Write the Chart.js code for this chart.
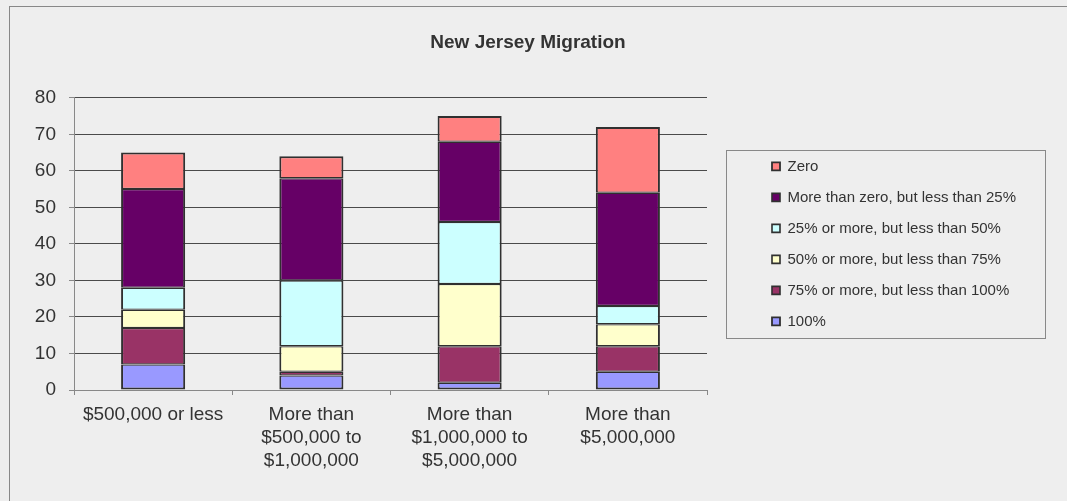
<!DOCTYPE html>
<html>
<head>
<meta charset="utf-8">
<title>New Jersey Migration</title>
<script src="https://cdn.jsdelivr.net/npm/chart.js@4/dist/chart.umd.min.js"></script>
<style>
	html, body { margin: 0; padding: 0; background: #eeeeee; }
	#wrap { position: relative; width: 1067px; height: 501px; }
</style>
</head>
<body>
<div id="wrap"><canvas id="migrationChart" width="1067" height="501"></canvas></div>
<script>
// Chart data
const categories = [
	'$500,000 or less',
	['More than', '$500,000 to', '$1,000,000'],
	['More than', '$1,000,000 to', '$5,000,000'],
	['More than', '$5,000,000']
];
const seriesLabels = [
	'100%',
	'75% or more, but less than 100%',
	'50% or more, but less than 75%',
	'25% or more, but less than 50%',
	'More than zero, but less than 25%',
	'Zero'
];
const pct100 = [7, 4, 2, 5];
const pct75to100 = [10, 1, 10, 7];
const pct50to75 = [5, 7, 17, 6];
const pct25to50 = [6, 18, 17, 5];
const pctAbove0 = [27, 28, 22, 31];
const pctZero = [10, 6, 7, 18];
const yMin = 0;
const yMax = 80;
const yStep = 10;

(function () {
	'use strict';

	const FONT = '"Liberation Sans", Arial, sans-serif';
	const TEXT_COLOR = '#333333';
	const LEGEND_W = 338;
	const LEGEND_SHIFT = 49;

	const seriesValues = [pct100, pct75to100, pct50to75, pct25to50, pctAbove0, pctZero];
	const seriesColors = ['#9999ff', '#993366', '#ffffcc', '#ccffff', '#660066', '#ff8080'];
	const last = seriesLabels.length - 1;

	const datasets = seriesLabels.map(function (label, i) {
		return {
			label: label,
			data: seriesValues[i],
			backgroundColor: seriesColors[i],
			borderColor: '#303030',
			// 2px outline round the stack, ~2.5px between segments
			borderWidth: {
				left: 2,
				right: 2,
				top: i === last ? 2 : 1.25,
				bottom: i === 0 ? 2 : 1.25
			},
			borderSkipped: false,
			inflateAmount: 0,
			barPercentage: 0.405,
			categoryPercentage: 1
		};
	});

	// background, outer frame, legend frame
	const frames = {
		id: 'frames',
		beforeLayout: function (chart) {
			const lg = chart.legend;
			if (lg && ! lg._fixedWidth) {
				const fit = lg.fit;
				lg.fit = function () {
					fit.call(this);
					this.width = LEGEND_W;
				};
				lg._fixedWidth = true;
			}
		},
		afterLayout: function (chart) {
			if (chart.legend) {
				chart.legend.left += LEGEND_SHIFT;
			}
		},
		beforeDraw: function (chart) {
			const ctx = chart.ctx;
			ctx.save();
			ctx.fillStyle = '#eeeeee';
			ctx.fillRect(0, 0, chart.width, chart.height);
			ctx.strokeStyle = '#888888';
			ctx.lineWidth = 1;
			ctx.strokeRect(9.5, 6.5, chart.width + 20, chart.height + 20);
			ctx.restore();
		},
		afterDraw: function (chart) {
			const lg = chart.legend;
			if ( ! lg || ! lg.columnSizes || ! lg.columnSizes.length) {
				return;
			}
			const pad = lg.options.labels.padding;
			const colH = lg.columnSizes[0].height;
			const itemsTop = (lg.top + pad + lg.bottom - colH) / 2;
			const itemsBottom = itemsTop + colH - pad;
			const ctx = chart.ctx;
			ctx.save();
			ctx.strokeStyle = '#888888';
			ctx.lineWidth = 1;
			const left = Math.round(chart.chartArea.right + 19) + 0.5;
			const right = Math.round(lg.right) + 0.5;
			const top = Math.round(itemsTop - 9) + 0.5;
			const bottom = Math.round(itemsBottom + 9) + 0.5;
			ctx.strokeRect(left, top, right - left, bottom - top);
			ctx.restore();
		}
	};

	const ctx = document.getElementById('migrationChart');

	new Chart(ctx, {
		type: 'bar',
		data: {
			labels: categories,
			datasets: datasets
		},
		options: {
			responsive: false,
			animation: false,
			layout: {
				padding: { left: 11, right: 22, top: 0, bottom: 0 }
			},
			scales: {
				x: {
					stacked: true,
					offset: true,
					border: { color: '#888888', width: 1 },
					grid: {
						offset: true,
						drawOnChartArea: false,
						drawTicks: true,
						tickLength: 5,
						tickColor: '#888888'
					},
					ticks: {
						color: TEXT_COLOR,
						padding: 8,
						maxRotation: 0,
						autoSkip: false,
						font: { family: FONT, size: 19, lineHeight: 23 / 19 }
					},
					afterFit: function (scale) {
						scale.height = 111;
					}
				},
				y: {
					stacked: true,
					min: yMin,
					max: yMax,
					border: { color: '#888888', width: 1 },
					grid: {
						color: '#4a4a4a',
						lineWidth: 1,
						tickLength: 5,
						tickColor: '#888888'
					},
					ticks: {
						stepSize: yStep,
						color: TEXT_COLOR,
						padding: 13,
						font: { family: FONT, size: 19 }
					},
					afterFit: function (scale) {
						scale.width = 63;
					}
				}
			},
			plugins: {
				title: {
					display: true,
					text: 'New Jersey Migration',
					color: TEXT_COLOR,
					font: { family: FONT, size: 19, weight: 'bold' },
					padding: { top: 31, bottom: 44 }
				},
				legend: {
					position: 'right',
					fullSize: false,
					reverse: true,
					labels: {
						color: TEXT_COLOR,
						boxWidth: 8,
						boxHeight: 8,
						padding: 16,
						font: { family: FONT, size: 15 }
					}
				},
				tooltip: { enabled: false }
			}
		},
		plugins: [frames]
	});
})();
</script>
</body>
</html>
